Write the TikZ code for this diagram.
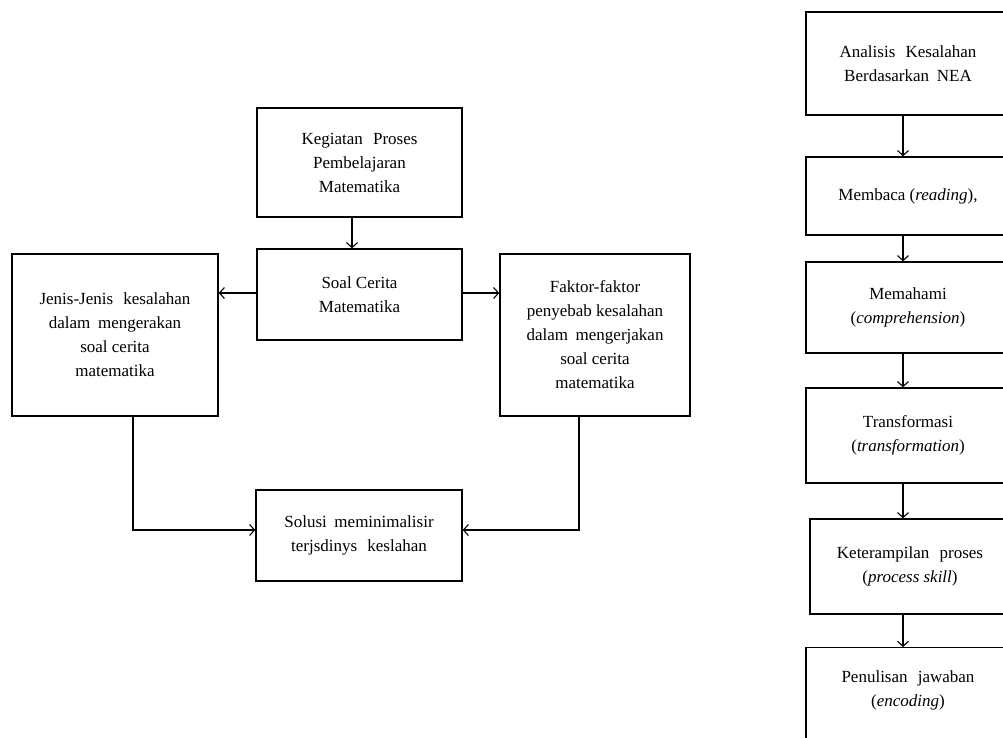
\documentclass[tikz,border=0pt]{standalone}
\usepackage{fontspec}
\setmainfont{Liberation Serif}
\usetikzlibrary{arrows.meta}
\begin{document}
\begin{tikzpicture}[x=1pt,y=-1pt,
  box/.style={draw, line width=1.4pt, inner sep=0pt, align=center,
    font=\fontsize{17}{24}\selectfont},
  arr/.style={line width=1.4pt,
    -{Straight Barb[length=5pt,width=11pt,line width=1.1pt]}}]
\useasboundingbox (0,0) rectangle (1003,737);
\clip (0,0) rectangle (1003,737);
% left diagram
\node[box, minimum width=205pt, minimum height=109pt] (keg) at (359.5,162.5)
  {Kegiatan\hspace{0.6em}Proses\\Pembelajaran\\Matematika};
\node[box, minimum width=205pt, minimum height=91pt] (soal) at (359.5,294.5)
  {Soal Cerita\\Matematika};
\node[box, minimum width=206pt, minimum height=162pt] (jenis) at (115,335)
  {Jenis-Jenis\hspace{0.6em}kesalahan\\dalam\hspace{0.45em}mengerakan\\soal cerita\\matematika};
\node[box, minimum width=190pt, minimum height=162pt] (faktor) at (595,335)
  {Faktor-faktor\\penyebab kesalahan\\dalam\hspace{0.45em}mengerjakan\\soal cerita\\matematika};
\node[box, minimum width=206pt, minimum height=91pt] (solusi) at (359,535.5)
  {Solusi\hspace{0.45em}meminimalisir\\terjsdinys\hspace{0.6em}keslahan};
\draw[arr] ([xshift=-7.5pt]keg.south) -- ([xshift=-7.5pt]soal.north);
\draw[arr] ([yshift=1.5pt]soal.west) -- ([yshift=1.5pt]soal.west -| jenis.east);
\draw[arr] ([yshift=1.5pt]soal.east) -- ([yshift=1.5pt]soal.east -| faktor.west);
\draw[arr] ([xshift=18pt]jenis.south) |- ([yshift=5.5pt]solusi.west);
\draw[arr] ([xshift=-16pt]faktor.south) |- ([yshift=5.5pt]solusi.east);
% right column
\node[box, minimum width=204pt, minimum height=103pt] (r1) at (908,63.5)
  {Analisis\hspace{0.6em}Kesalahan\\Berdasarkan\hspace{0.45em}NEA};
\node[box, minimum width=204pt, minimum height=78pt] (r2) at (908,196)
  {Membaca (\textit{reading}),};
\node[box, minimum width=204pt, minimum height=91pt] (r3) at (908,307.5)
  {Memahami\\(\textit{comprehension})};
\node[box, minimum width=204pt, minimum height=95pt] (r4) at (908,435.5)
  {Transformasi\\(\textit{transformation})};
\node[box, minimum width=200pt, minimum height=95pt] (r5) at (910,566.5)
  {Keterampilan\hspace{0.6em}proses\\(\textit{process skill})};
\node[box, minimum width=204pt, minimum height=120pt, anchor=north] (r6) at (908,647)
  {\\[-3pt]Penulisan\hspace{0.6em}jawaban\\(\textit{encoding})\\ \\ };
\draw[arr] ([xshift=-5pt]r1.south) -- ([xshift=-5pt]r2.north);
\draw[arr] ([xshift=-5pt]r2.south) -- ([xshift=-5pt]r3.north);
\draw[arr] ([xshift=-5pt]r3.south) -- ([xshift=-5pt]r4.north);
\draw[arr] ([xshift=-5pt]r4.south) -- ([xshift=-7pt]r5.north);
\draw[arr] ([xshift=-7pt]r5.south) -- ([xshift=-5pt]r6.north);
\end{tikzpicture}
\end{document}
